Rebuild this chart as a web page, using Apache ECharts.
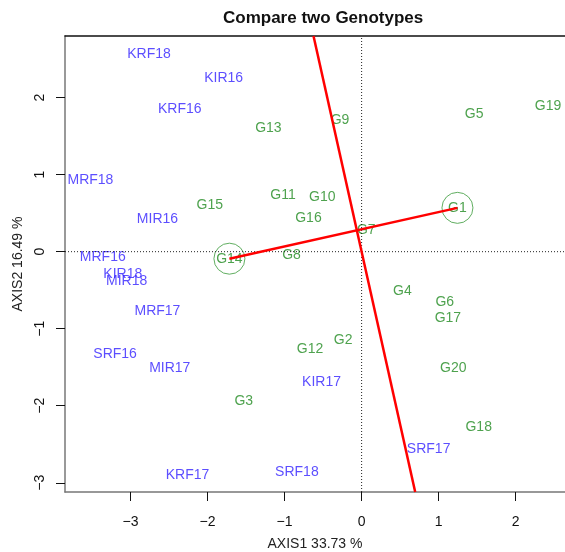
<!DOCTYPE html>
<html>
<head>
<meta charset="utf-8">
<script src="https://cdn.jsdelivr.net/npm/echarts@6/dist/echarts.min.js"></script>
<style>
  html, body { margin: 0; padding: 0; background: #fff; }
  #chart { width: 565px; height: 552px; }
</style>
</head>
<body>
<div id="chart"></div>
<script>
// genotypes (green)
var genoNames = ['G1','G2','G3','G4','G5','G6','G7','G8','G9','G10',
                 'G11','G12','G13','G14','G15','G16','G17','G18','G19','G20'];
var genoX = [1.244, -0.24, -1.53, 0.53, 1.46, 1.08, 0.06, -0.91, -0.28, -0.51,
             -1.02, -0.67, -1.21, -1.716, -1.97, -0.69, 1.12, 1.52, 2.42, 1.19];
var genoY = [0.569, -1.15, -1.94, -0.51, 1.78, -0.65, 0.28, -0.04, 1.71, 0.71,
             0.73, -1.27, 1.61, -0.091, 0.61, 0.43, -0.86, -2.28, 1.89, -1.51];

// environments (blue)
var envNames = ['KRF18','KIR16','KRF16','MRF18','MIR16','MRF16','KIR18','MIR18',
                'MRF17','SRF16','MIR17','KIR17','SRF17','KRF17','SRF18'];
var envX = [-2.76, -1.79, -2.36, -3.52, -2.65, -3.36, -3.10, -3.05,
            -2.65, -3.20, -2.49, -0.52, 0.87, -2.26, -0.84];
var envY = [2.57, 2.25, 1.85, 0.93, 0.42, -0.065, -0.29, -0.38,
            -0.77, -1.33, -1.51, -1.69, -2.57, -2.90, -2.86];

// the two genotypes compared
var compared = ['G1', 'G14'];

var tickValues = [-3, -2, -1, 0, 1, 2];
var xRange = [-3.85, 2.64];
var yRange = [-3.12, 2.80];

var font = 'Liberation Sans, Arial, sans-serif';

function pts(names, xs, ys) {
  return names.map(function (n, i) { return { name: n, value: [xs[i], ys[i]] }; });
}

var g1 = genoNames.indexOf(compared[0]);
var g2 = genoNames.indexOf(compared[1]);
var pA = [genoX[g1], genoY[g1]];
var pB = [genoX[g2], genoY[g2]];
var dx = pA[0] - pB[0], dy = pA[1] - pB[1];
// perpendicular through the origin: dx*x + dy*y = 0
var perp = [[-dy * yRange[1] / dx, yRange[1]], [-dy * yRange[0] / dx, yRange[0]]];

function minus(v) { return String(v).replace('-', '\u2212'); }

var chart = echarts.init(document.getElementById('chart'));
chart.setOption({
  animation: false,
  title: {
    text: 'Compare two Genotypes',
    left: 218,
    top: 5,
    textStyle: { fontFamily: font, fontSize: 17, fontWeight: 'bold', color: '#111' }
  },
  grid: { left: 65, top: 36, right: 0, bottom: 60, outerBoundsMode: 'none' },
  xAxis: [{
    type: 'value',
    min: xRange[0], max: xRange[1],
    name: 'AXIS1 33.73 %',
    nameLocation: 'middle',
    nameGap: 45,
    nameTextStyle: { fontFamily: font, fontSize: 14, color: '#222' },
    splitLine: { show: false },
    axisLine: { show: true, onZero: false, lineStyle: { color: '#777', width: 1.5 } },
    axisTick: { show: true, length: 9, customValues: tickValues, lineStyle: { color: '#111' } },
    axisLabel: {
      customValues: tickValues, margin: 23, formatter: minus,
      fontFamily: font, fontSize: 14, color: '#111'
    }
  }, {
    // top edge of the box
    type: 'value', position: 'top',
    min: xRange[0], max: xRange[1],
    splitLine: { show: false },
    axisLine: { show: true, onZero: false, lineStyle: { color: '#111', width: 1.5 } },
    axisTick: { show: false },
    axisLabel: { show: false }
  }],
  yAxis: {
    type: 'value',
    min: yRange[0], max: yRange[1],
    name: 'AXIS2 16.49 %',
    nameLocation: 'middle',
    nameRotate: 90,
    nameGap: 35,
    nameTextStyle: { fontFamily: font, fontSize: 14, color: '#222' },
    splitLine: { show: false },
    axisLine: { show: true, onZero: false, lineStyle: { color: '#777', width: 1.5 } },
    axisTick: { show: true, length: 9, customValues: tickValues, lineStyle: { color: '#111' } },
    axisLabel: {
      customValues: tickValues, margin: 18, rotate: 90, formatter: minus,
      fontFamily: font, fontSize: 14, color: '#111'
    }
  },
  series: [
    {
      type: 'line',
      data: [[0, yRange[0]], [0, yRange[1]]],
      symbol: 'none', silent: true,
      lineStyle: { color: '#222', width: 1, type: [1, 2] }
    },
    {
      type: 'line',
      data: [[xRange[0], 0], [xRange[1], 0]],
      symbol: 'none', silent: true,
      lineStyle: { color: '#222', width: 1, type: [1, 2] }
    },
    {
      type: 'line',
      data: [pB, pA],
      symbol: 'none',
      lineStyle: { color: '#ff0000', width: 2.5 }
    },
    {
      type: 'line',
      data: perp,
      symbol: 'none',
      lineStyle: { color: '#ff0000', width: 2.5 }
    },
    {
      type: 'scatter',
      data: [{ value: pA }, { value: pB }],
      symbol: 'circle',
      symbolSize: 31,
      itemStyle: { color: 'transparent', borderColor: '#3a9a3a', borderWidth: 1 }
    },
    {
      type: 'scatter',
      data: pts(genoNames, genoX, genoY),
      symbolSize: 1,
      itemStyle: { color: 'transparent' },
      label: {
        show: true, position: 'inside', formatter: '{b}',
        fontFamily: font, fontSize: 14, color: '#228b22'
      }
    },
    {
      type: 'scatter',
      data: pts(envNames, envX, envY),
      symbolSize: 1,
      itemStyle: { color: 'transparent' },
      label: {
        show: true, position: 'inside', formatter: '{b}',
        fontFamily: font, fontSize: 14, color: '#3322ff'
      }
    }
  ]
});
</script>
</body>
</html>
